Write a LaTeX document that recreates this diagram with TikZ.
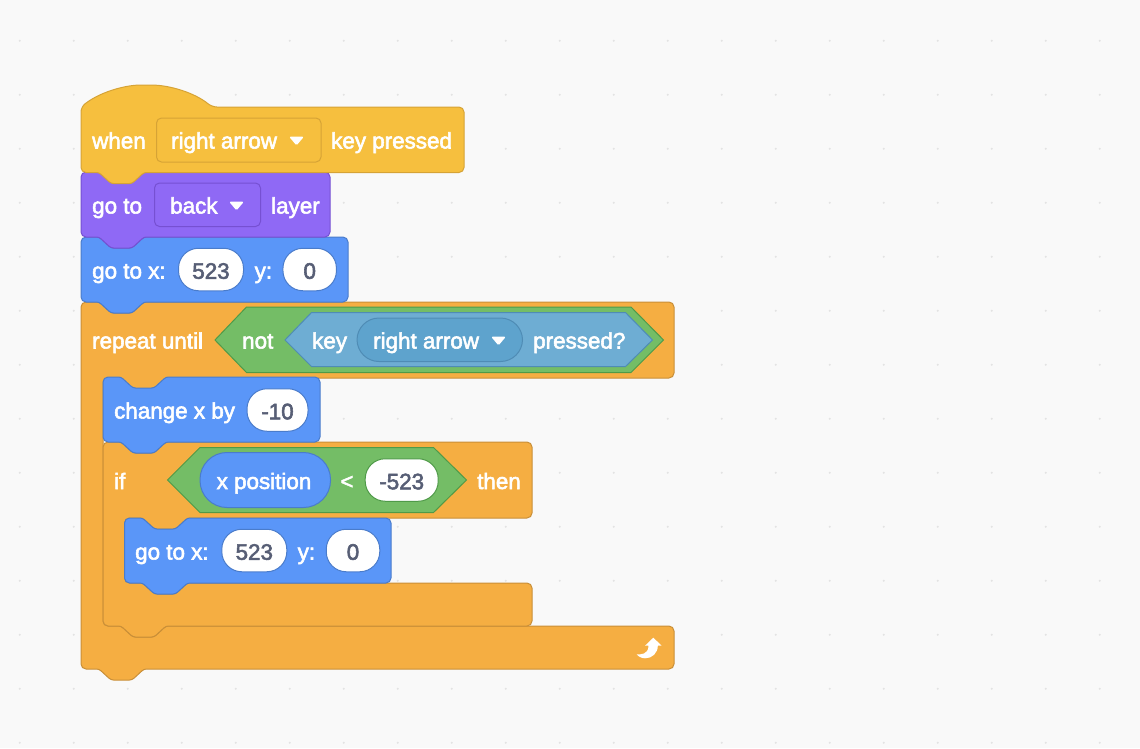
\documentclass[tikz,border=0pt]{standalone}
\usepackage{fontspec}
\setmainfont{Liberation Sans}[FakeBold=2.5]
\definecolor{canvas}{HTML}{F9F9F9}
\definecolor{griddot}{HTML}{E3E3E3}
\definecolor{hatfill}{HTML}{F6BF3E}
\definecolor{hatline}{HTML}{D6A336}
\definecolor{layerfill}{HTML}{8F69F5}
\definecolor{layerline}{HTML}{7650D2}
\definecolor{motionfill}{HTML}{5A96F8}
\definecolor{motionline}{HTML}{4A7CCB}
\definecolor{loopfill}{HTML}{F5AE42}
\definecolor{loopline}{HTML}{C98F38}
\definecolor{opfill}{HTML}{74BD66}
\definecolor{opline}{HTML}{4F9A48}
\definecolor{sensefill}{HTML}{6EADD3}
\definecolor{senseline}{HTML}{4F8CB5}
\definecolor{keyfill}{HTML}{5EA3CD}
\definecolor{numtext}{HTML}{575E75}
\newcommand{\topnotch}[2]{[rounded corners=2.5pt] -- (#1+18,#2) -- (#1+30,#2+11) -- (#1+51,#2+11) -- (#1+63,#2) [rounded corners=5pt]}
\newcommand{\botnotch}[2]{[rounded corners=2.5pt] -- (#1+63,#2) -- (#1+51,#2+11) -- (#1+30,#2+11) -- (#1+18,#2) [rounded corners=5pt]}
\newcommand{\stackblock}[5]{\draw[#1] (#2,#4) \topnotch{#2}{#4} -- (#3,#4) -- (#3,#5) \botnotch{#2}{#5} -- (#2,#5) -- cycle;}
\newcommand{\caret}[2]{\fill[white, rounded corners=1.5pt] (#1-7.5,#2-4.5) -- (#1+7.5,#2-4.5) -- (#1,#2+4.5) -- cycle;}
\tikzset{
  block/.style={line width=1pt, rounded corners=5pt},
  hat/.style={block, fill=hatfill, draw=hatline},
  layer/.style={block, fill=layerfill, draw=layerline},
  motion/.style={block, fill=motionfill, draw=motionline},
  loop/.style={block, fill=loopfill, draw=loopline},
  hexop/.style={line width=1pt, fill=opfill, draw=opline},
  hexsense/.style={line width=1pt, fill=sensefill, draw=senseline},
  word/.style={text=white, anchor=base west, inner sep=0pt, font=\fontsize{22.4}{24}\selectfont},
  numfield/.style={fill=white, draw=#1, line width=1pt, rounded corners=20pt, text=numtext, inner sep=0pt,
    minimum height=42.5pt, text height=18.5pt, text depth=0pt, font=\fontsize{22.4}{24}\selectfont},
  numfield/.default=motionline
}
\begin{document}
\begin{tikzpicture}[x=1pt, y=-1pt]
\useasboundingbox (0,0) rectangle (1140,748);
\fill[canvas] (0,0) rectangle (1140,748);
\foreach \x in {0,...,20}
\foreach \y in {0,...,13}
\fill[griddot] (19.7+54*\x, 40.7+54*\y) circle (1.1pt);
\draw[loop] (81,302) \topnotch{81}{302} -- (674,302) -- (674,378) \botnotch{103}{378} -- (103,378) -- (103,626) \topnotch{103}{626} -- (674,626) -- (674,669) \botnotch{81}{669} -- (81,669) -- cycle;
\draw[loop] (103,442) \topnotch{103}{442} -- (532,442) -- (532,518) \botnotch{124.5}{518} -- (124.5,518) -- (124.5,583) \topnotch{124.5}{583} -- (532,583) -- (532,626) \botnotch{103}{626} -- (103,626) -- cycle;
\stackblock{motion}{124.5}{391}{518}{583}
\stackblock{motion}{103}{320}{377}{442}
\stackblock{motion}{81}{348}{237}{302}
\stackblock{layer}{81}{330}{172}{237}
\draw[hat] (81,107) .. controls (100,92) and (125,85) .. (146,85) .. controls (170,85) and (195,93) .. (212,107) -- (464,107) -- (464,172.5) \botnotch{81}{172.5} -- (81,172.5) -- cycle;
\node[word] (whenword) at (92,148.5) {when};
\draw[hatline, line width=1pt, rounded corners=5pt] (156.5,118) rectangle (321,162);
\node[word] (keyname) at (171,148.5) {right arrow};
\caret{296.5}{141}
\node[word] (keypressed) at (331,148.5) {key pressed};
\node[word] (gotoword) at (92,213.5) {go to};
\draw[layerline, line width=1pt, rounded corners=5pt] (154.5,183) rectangle (260.5,226.5);
\node[word] (backname) at (170,213.5) {back};
\caret{236.5}{206}
\node[word] (layerword) at (271,213.5) {layer};
\node[word] (goxword) at (92,278.5) {go to x:};
\node[numfield, minimum width=65pt] (goxval) at (211,269.5) {523};
\node[word] (goyword) at (254.5,278.5) {y:};
\node[numfield, minimum width=53.5pt] (goyval) at (309.7,269.5) {0};
\node[word] (repeatword) at (92,348.5) {repeat until};
\draw[hexop] (215,340) -- (246.5,307) -- (631,307) -- (663.5,340) -- (631,372.5) -- (246.5,372.5) -- cycle;
\node[word] (notword) at (242,348.5) {not};
\draw[hexsense] (285,340) -- (311.5,312.5) -- (625.5,312.5) -- (652.5,340) -- (625.5,366.5) -- (311.5,366.5) -- cycle;
\node[word] (keyword) at (312,348.5) {key};
\draw[fill=keyfill, draw=senseline, line width=1pt, rounded corners=22pt] (357,318) rectangle (522.5,361.5);
\node[word] (sensename) at (373,348.5) {right arrow};
\caret{498.5}{341}
\node[word] (pressedword) at (533,348.5) {pressed?};
\node[word] (changeword) at (114,418.5) {change x by};
\node[numfield, minimum width=61pt] (changeval) at (277.5,410) {-10};
\node[word] (ifword) at (114,489) {if};
\draw[hexop] (167.5,480) -- (200,447.5) -- (433.5,447.5) -- (466.5,480) -- (433.5,512.5) -- (200,512.5) -- cycle;
\draw[fill=motionfill, draw=motionline, line width=1pt, rounded corners=27pt] (200,452.5) rectangle (330.5,507.5);
\node[word] (xposword) at (216.5,489) {x position};
\node[word, anchor=base] (lessword) at (347,489) {<};
\node[numfield=opline, minimum width=73pt] (limitval) at (401.7,480) {-523};
\node[word] (thenword) at (477,489) {then};
\node[word] (gox2word) at (135,559.5) {go to x:};
\node[numfield, minimum width=65pt] (gox2val) at (254.3,550.5) {523};
\node[word] (goy2word) at (297.5,559.5) {y:};
\node[numfield, minimum width=53.5pt] (goy2val) at (353,550.5) {0};
\fill[white] (653.3,637.7) -- (661.7,645.7) -- (657.8,645.7) .. controls (657.8,653) and (652,658.5) .. (645,658.3) .. controls (641,658.3) and (638,656) .. (636.7,654.3) .. controls (640,654.5) and (648.5,655) .. (648.5,645.7) -- (645,645.7) -- cycle;
\end{tikzpicture}
\end{document}
